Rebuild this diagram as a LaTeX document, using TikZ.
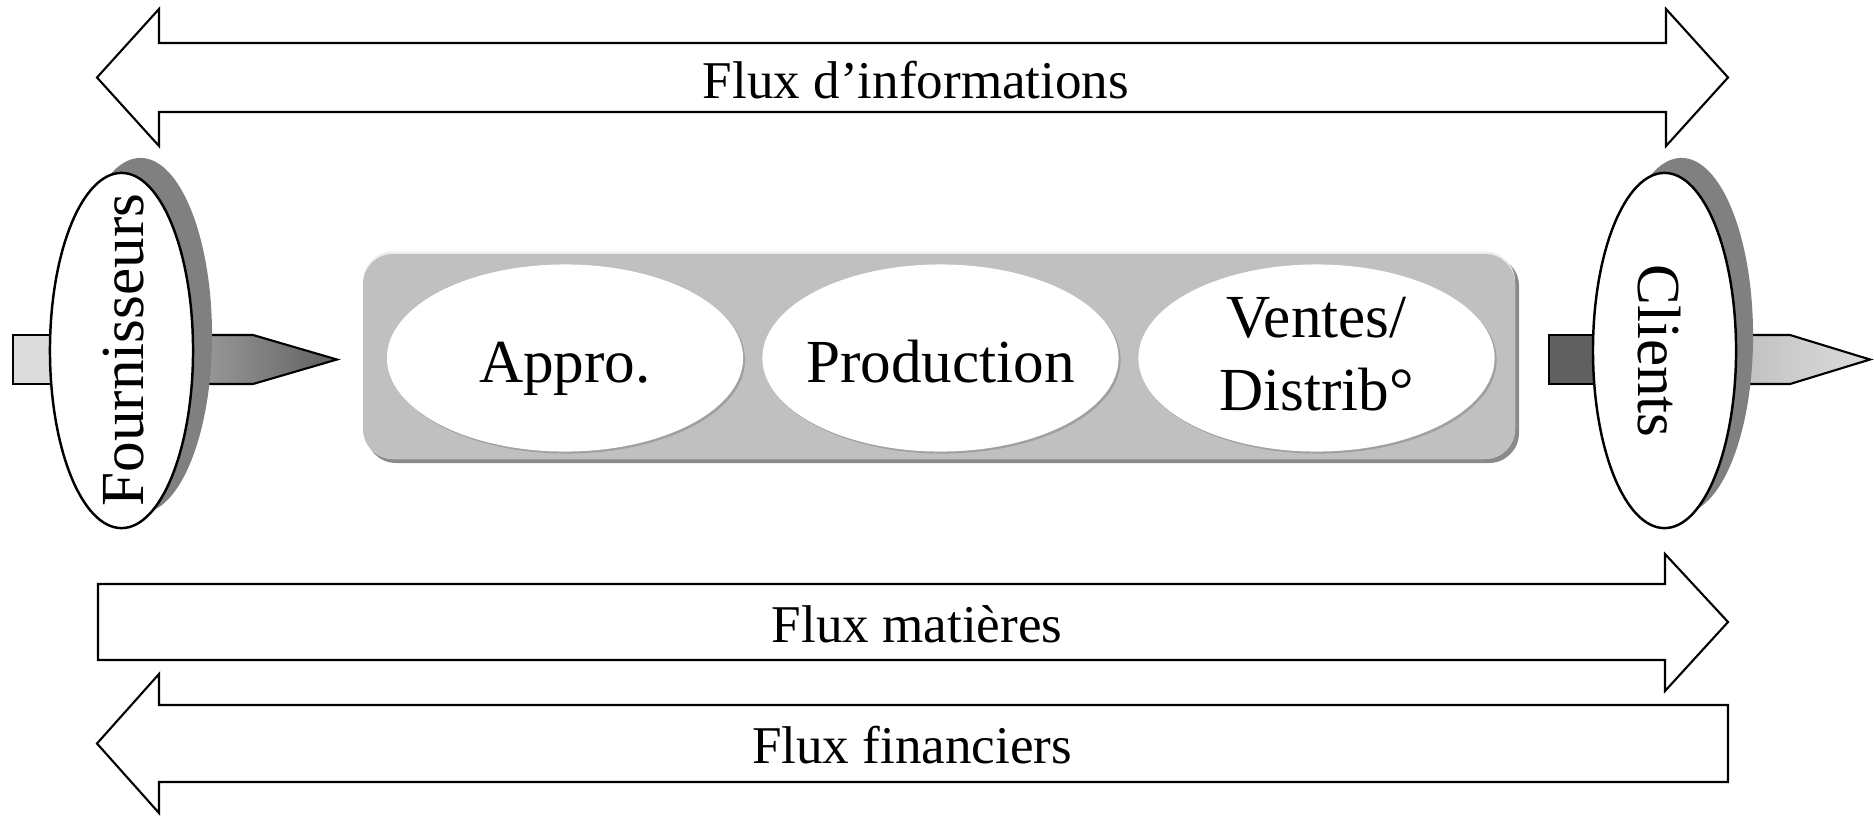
\documentclass[tikz,border=0pt]{standalone}
\usepackage{fontspec}
\setmainfont{Liberation Serif}
\usetikzlibrary{shapes.geometric}
\definecolor{boxgray}{HTML}{C0C0C0}
\definecolor{boxshadow}{HTML}{8A8A8A}
\definecolor{shadowgray}{HTML}{808080}
\definecolor{lightrect}{HTML}{DCDCDC}
\definecolor{darkrect}{HTML}{606060}
\definecolor{stageshadow}{HTML}{A0A0A0}
\begin{document}
\begin{tikzpicture}[x=0.01cm,y=-0.01cm,
  blockarrow/.style={draw=black,line width=0.6pt,fill=white,line join=miter},
  endell/.style={ellipse,draw=black,line width=0.7pt,fill=white,inner sep=0pt,
    minimum width=1.43cm,minimum height=3.55cm},
  endshadow/.style={ellipse,fill=shadowgray,inner sep=0pt,
    minimum width=1.43cm,minimum height=3.55cm},
  stageell/.style={ellipse,fill=white,inner sep=0pt,
    minimum width=3.56cm,minimum height=1.87cm},
  stageshad/.style={ellipse,fill=stageshadow,inner sep=0pt,
    minimum width=3.56cm,minimum height=1.87cm},
  pointer/.style={draw=black,line width=0.6pt,line join=miter},
  fluxlabel/.style={font=\fontsize{15.1}{18}\selectfont,anchor=base},
  biglabel/.style={font=\fontsize{17.4}{21}\selectfont}]
\useasboundingbox (0,0) rectangle (1874,815);

% ---- flux arrows ----
\draw[blockarrow] (97,77.5) -- (159,9) -- (159,43) -- (1666,43) -- (1666,9)
  -- (1728,77.5) -- (1666,146) -- (1666,112) -- (159,112) -- (159,146) -- cycle;
\draw[blockarrow] (98,584) -- (1665,584) -- (1665,554) -- (1728,622)
  -- (1665,691) -- (1665,660) -- (98,660) -- cycle;
\draw[blockarrow] (1728,705) -- (159,705) -- (159,674) -- (97,743.5)
  -- (159,813) -- (159,782) -- (1728,782) -- cycle;
\node[fluxlabel] (finfo) at (916,98) {Flux d’informations};
\node[fluxlabel] (fmat) at (917,642) {Flux matières};
\node[fluxlabel] (ffin) at (912,763) {Flux financiers};

% ---- central process box ----
\fill[boxshadow,rounded corners=0.3cm] (366,256) rectangle (1519,463);
\fill[white!85!gray,rounded corners=0.3cm] (363,251.5) rectangle (1515,459);
\fill[boxgray,rounded corners=0.3cm] (363,254) rectangle (1515,459);

\node[stageshad] (approsh) at (567,360) {};
\node[stageell] (appro) at (565,358) {};
\node[stageshad] (prodsh) at (942.5,360) {};
\node[stageell] (prod) at (940.5,358) {};
\node[stageshad] (ventsh) at (1318.5,360) {};
\node[stageell] (vent) at (1316.5,358) {};
\node[biglabel,anchor=base] (approtxt) at (appro |- 0,382) {Appro.};
\node[biglabel,anchor=base] (prodtxt) at (prod |- 0,382) {Production};
\node[biglabel,anchor=base] (venttxt1) at (vent |- 0,337) {Ventes/};
\node[biglabel,anchor=base] (venttxt2) at (vent |- 0,410) {Distrib°};

% ---- suppliers ----
\draw[pointer,fill=lightrect] (13,335) rectangle (122,384);
\draw[pointer,left color=stageshadow,right color=darkrect]
  (185,335) -- (253,335) -- (337,359.5) -- (253,384) -- (185,384) -- cycle;
\node[endshadow] (fournsh) at (140.5,335.5) {};
\node[endell] (fourn) at (121.5,350.5) {};
\node[biglabel,rotate=90] (fourntxt) at (124,350) {Fournisseurs};

% ---- customers ----
\draw[pointer,fill=darkrect] (1549,335) rectangle (1664,384);
\draw[pointer,left color=stageshadow!70!white,right color=lightrect]
  (1720,335) -- (1790,335) -- (1870,359.5) -- (1790,384) -- (1720,384) -- cycle;
\node[endshadow] (clientsh) at (1681.5,335.5) {};
\node[endell] (client) at (1664.5,350.5) {};
\node[biglabel,rotate=-90] (clienttxt) at (1659,351) {Clients};
\end{tikzpicture}
\end{document}
